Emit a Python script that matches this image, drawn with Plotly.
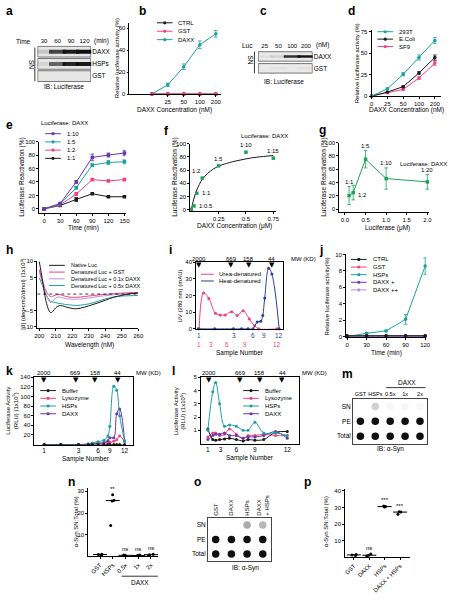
import plotly.graph_objects as go
import statistics

W, H = 455, 600
FONT = 'Liberation Sans, Arial, sans-serif'
BLACK = '#1a1a1a'; PINK = '#f0407f'; TEAL = '#1fa0a0'; PURPLE = '#6a35b0'
LPURPLE = '#b692e6'; BLUE = '#2a3da0'; GREEN = '#22a05c'

# ---------------- data ----------------
a_times = ['30', '60', '90', '120']
a_rows = ['DAXX', 'HSPs', 'GST']
a_daxx = [0.15, 0.75, 0.95, 1.0]
a_hsps = [0.08, 0.6, 0.9, 0.95]
a_gst = [0.0, 0.0, 0.0, 0.0]

b_conc = ['0', '25', '50', '100', '200']
b_ctrl = [0, 0, 0, 0, 0]
b_gst = [0, 0, 0, 0, 0]
b_daxx = [0, 8.5, 25, 45, 55]
b_daxx_err = [0, 1.5, 2.5, 3.5, 3]

c_conc = ['25', '50', '100', '200']
c_rows = ['DAXX', 'GST']
c_daxx = [0.04, 0.1, 0.85, 0.95]
c_gst = [0.0, 0.03, 0.0, 0.03]

d_conc = ['0', '25', '50', '100', '200']
d_293t = [0, 8.5, 25.5, 45, 65]
d_293t_err = [0, 1, 2, 3, 3.5]
d_ecoli = [0, 4.7, 11, 27, 45]
d_ecoli_err = [0, 0.5, 1, 1.5, 3]
d_sf9 = [0, 3.8, 7.8, 21, 38.5]
d_sf9_err = [0, 0.5, 1, 1.5, 2.5]

e_time = [0, 30, 60, 90, 120, 150]
e_1_10 = [0, 8, 40, 76.5, 80, 83]
e_1_10_err = [0, 1, 2, 5, 3, 4]
e_1_5 = [0, 7, 31.5, 65, 69, 70]
e_1_5_err = [0, 1, 2, 2, 3, 3]
e_1_2 = [0, 6, 22, 43.5, 41.5, 43.5]
e_1_2_err = [0, 1, 2, 1, 1, 2]
e_1_1 = [0, 5, 14, 22.5, 18, 18]
e_1_1_err = [0, 1, 3, 1, 1, 1]

f_conc = [0.0, 0.025, 0.05, 0.1, 0.25, 0.5, 0.75]
f_react = [1, 6, 25, 48, 66.5, 87, 78]
f_labels = ['', '1:0.5', '1:1', '1:2', '1:5', '1:10', '1:15']
f_fit_x = [0, 0.02, 0.05, 0.1, 0.15, 0.2, 0.25, 0.3, 0.4, 0.5, 0.6, 0.75]
f_fit_y = [0, 15, 30, 46, 55, 61.5, 66, 69, 73.5, 77, 79.5, 82]

g_luc = [0.1, 0.2, 0.5, 1.0, 2.0]
g_react = [20.5, 25, 75, 46, 41]
g_err = [13.5, 11, 13, 16, 11]
g_labels = ['1:1', '1:2', '1:5', '1:10', '1:20']

h_wl = [200, 202, 204, 206, 207, 208, 210, 212, 214, 216, 218, 220, 222, 225, 230, 235, 240, 245, 250, 255, 260]
h_native = [10, 4, -2, -5.2, -5.7, -5.4, -4.2, -3.6, -3.6, -3.9, -4.2, -4.4, -4.5, -4.3, -3.6, -2.8, -1.9, -1.0, -0.4, 0.1, 0.3]
h_gst = [7.5, 4, 1, -0.5, -0.8, -0.7, -0.3, -0.1, -0.4, -0.7, -0.9, -1.0, -1.0, -0.9, -0.6, -0.3, -0.1, 0.1, 0.3, 0.4, 0.5]
h_daxx01 = [7, 3, 0, -2.2, -2.6, -2.3, -1.2, -0.9, -1.1, -1.4, -1.5, -1.6, -1.6, -1.5, -1.2, -0.8, -0.5, -0.2, 0.0, 0.1, 0.2]
h_daxx05 = [5, 2.5, 0, -1.8, -2.3, -2.4, -2.6, -2.9, -3.0, -3.2, -3.3, -3.4, -3.5, -3.4, -3.0, -2.3, -1.5, -0.9, -0.6, -0.5, -0.4]

i_pink_pos = [3.1, 7.7, 13, 19.7, 24.7, 29.7, 36.3, 41.9, 48, 54.3, 59.7, 63.8, 82.3]
i_pink_val = [0, 21.6, 18.2, 9.3, 8.3, 8.3, 10.3, 7.9, 10.9, 5.9, 1.8, 0, 0]
i_blue_pos = [2.3, 19, 38, 46.3, 53, 58, 62.3, 66, 68, 70, 74, 77.3, 84.7]
i_blue_val = [0, 0, 0, 0, 0, 0, 4, 4.5, 8, 18.5, 36.5, 33, 0]
i_blue_ticks = [3, 39, 58, 69.7, 84.7]
i_pink_ticks = [3, 14.7, 31.3, 49.7, 83]
i_tick_text = ['1', '3', '6', '9', '12']
i_mw_pos = [3, 35.7, 53.7, 77.3]
mw_text = ['2000', '669', '158', '44']

j_time = [0, 30, 60, 90, 120]
j_ctrl = [0.1, 0.1, 0.1, 0.1, 0.1]
j_gst = [0.05, 0.1, 0.1, 0.1, 0.1]
j_hsps = [0, 0.4, 0.7, 2.1, 8.6]
j_hsps_err = [0, 0.1, 0.1, 0.6, 1.0]
j_daxx1 = [0.05, 0.05, 0.05, 0.05, 0.05]
j_daxx2 = [0.05, 0.05, 0.05, 0.05, 0.05]

k_pos = [10, 27, 45, 55, 59, 65, 71, 75, 77, 81, 84, 87, 92]
k_buffer = [0, 0, 0, 0, 0, 0, 0, 0, 0, 0, 0, 0, 0]
k_lyso = [0, 0, 0, 1, 2, 3, 3, 4, 5, 7, 10, 18, 6]
k_hsps = [0, 0, 0, 1, 3, 6, 9, 18, 38, 121, 113, 60, 8]
k_daxx = [0, 0, 0, 0, 1, 2, 4, 8, 14, 14, 64, 74, 8]
k_ticks = [10, 45, 65, 77, 92]
k_mw_pos = [10, 42, 62, 85]

l_pos = [7, 12, 15, 19, 24, 29, 36, 43, 48, 55, 64, 76, 88]
l_buffer = [1.1, 0.3, 0.25, 0.3, 0.35, 0.4, 0.3, 0.2, 0.3, 0.25, 0.3, 0.85, 0.9]
l_lyso = [0.5, 0.8, 0.8, 0.6, 0.7, 1.1, 0.7, 0.4, 0.6, 0.6, 0.7, 0.6, 0.6]
l_hsps = [1.0, 3.9, 4.6, 3.0, 1.3, 1.4, 1.3, 1.0, 1.0, 1.6, 0.8, 0.8, 0.6]
l_daxx = [0.3, 0.6, 0.7, 0.7, 0.8, 0.6, 0.6, 0.4, 0.5, 0.5, 0.6, 0.9, 0.4]
l_ticks = [7, 20, 36, 55, 88]
l_mw_pos = [8, 40, 60, 83]

m_lanes = ['GST', 'HSPs', '0.5x', '1x', '2x']
m_rows = ['SN', 'PE', 'Total']
m_sn = [0.0, 0.2, 0.03, 0.03, 0.03]
m_pe = [1.0, 1.0, 1.0, 1.0, 1.0]
m_total = [1.0, 1.0, 1.0, 1.0, 1.0]

n_groups = ['GST', 'HSPs', '0.5x', '1x', '2x']
n_vals = [[0.6, 0.9, 1.0], [14.2, 25.6, 25.9, 28.4], [0.2, 0.5, 0.6], [0.3, 0.4, 0.7], [0.5, 0.8, 1.0]]
n_sig = ['', '**', 'ns', 'ns', 'ns']

o_lanes = ['GST', 'DAXX', 'HSPs', 'DAXX<br>+ HSPs']
o_rows = ['SN', 'PE', 'Total']
o_sn = [0.0, 0.0, 0.35, 0.3]
o_pe = [1.0, 1.0, 1.0, 1.0]
o_total = [1.0, 1.0, 1.0, 1.0]

p_groups = ['GST', 'DAXX', 'HSPs', 'DAXX + HSPs']
p_vals = [[1.2, 1.5, 1.7], [0.9, 1.3, 2.0], [30.2, 30.5, 30.9], [25.9, 27.2, 27.4]]
p_sig = ['', 'ns', '***', '***']

# ---------------- helpers ----------------
fig = go.Figure()
layout = {}
shapes = []
anns = []


def fx(px):
    return px / W


def fy(py):
    return 1 - py / H


BASE = dict(showline=True, linecolor='black', linewidth=0.8, ticks='outside', ticklen=2,
            tickwidth=0.8, tickcolor='black', showgrid=False, zeroline=False,
            tickfont=dict(size=6, color='black', family=FONT), fixedrange=True)


def axes(n, x0, x1, y0, y1, xa=None, ya=None):
    xid = 'x' if n == 1 else f'x{n}'
    yid = 'y' if n == 1 else f'y{n}'
    xd = dict(BASE); xd.update(xa or {}); xd.update(domain=[fx(x0), fx(x1)], anchor=yid)
    yd = dict(BASE); yd.update(ya or {}); yd.update(domain=[fy(y1), fy(y0)], anchor=xid)
    layout['xaxis' if n == 1 else f'xaxis{n}'] = xd
    layout['yaxis' if n == 1 else f'yaxis{n}'] = yd
    return xid, yid


def text(px, py, s, size=6, xanchor='center', yanchor='middle', angle=0, color='black', bold=False):
    anns.append(dict(xref='paper', yref='paper', x=fx(px), y=fy(py), text=(f'<b>{s}</b>' if bold else s),
                     showarrow=False, xanchor=xanchor, yanchor=yanchor, textangle=angle,
                     font=dict(size=size, color=color, family=FONT), borderpad=0))


def line(x0, y0, x1, y1, color='black', width=0.8, dash='solid'):
    shapes.append(dict(type='line', xref='paper', yref='paper', x0=fx(x0), y0=fy(y0), x1=fx(x1), y1=fy(y1),
                       line=dict(color=color, width=width, dash=dash)))


def legend(x, y0, dy, items, line_len=16, gap=5, size=6):
    for i, (name, color, marker) in enumerate(items):
        y = y0 + i * dy
        line(x, y, x + line_len, y, color=color, width=1)
        if marker:
            cx = x + line_len / 2
            shapes.append(dict(type='circle', xref='paper', yref='paper', x0=fx(cx - 1.6), x1=fx(cx + 1.6),
                               y0=fy(y + 1.6), y1=fy(y - 1.6), fillcolor=color, line=dict(width=0)))
        text(x + line_len + gap, y, name, xanchor='left', size=size)


def series(x, y, color, xid, yid, err=None, size=3.5, shape='linear', mode='lines+markers', symbol='circle', width=1):
    t = go.Scatter(x=x, y=y, mode=mode, line=dict(color=color, width=width, shape=shape),
                   marker=dict(color=color, size=size, symbol=symbol), xaxis=xid, yaxis=yid,
                   showlegend=False, cliponaxis=False, hoverinfo='skip')
    if err is not None:
        t.error_y = dict(type='data', array=err, color=color, thickness=0.8, width=1.8, visible=True)
    fig.add_trace(t)


def gray(v):
    return f'rgba(15,15,15,{v})'


def blot_bands(lanes, rows, vals, xid, yid, size=13, width=4):
    xs, ys, cs = [], [], []
    for r, rv in zip(rows, vals):
        for l, v in zip(lanes, rv):
            xs.append(l); ys.append(r); cs.append(gray(v))
    fig.add_trace(go.Scatter(x=xs, y=ys, mode='markers', xaxis=xid, yaxis=yid, showlegend=False, hoverinfo='skip',
                             marker=dict(symbol='line-ew', size=size, color=cs, line=dict(color=cs, width=width))))


def blot_dots(lanes, rows, vals, xid, yid, size=8):
    xs, ys, cs = [], [], []
    for r, rv in zip(rows, vals):
        for l, v in zip(lanes, rv):
            xs.append(l); ys.append(r); cs.append(gray(v))
    fig.add_trace(go.Scatter(x=xs, y=ys, mode='markers', xaxis=xid, yaxis=yid, showlegend=False, hoverinfo='skip',
                             marker=dict(symbol='circle', size=size, color=cs, line=dict(width=0))))


def dotplot(groups, vals, sig, xid, yid):
    xs, ys = [], []
    for g, v in zip(groups, vals):
        xs += [g] * len(v); ys += v
    fig.add_trace(go.Box(x=xs, y=ys, boxpoints='all', jitter=0.7, pointpos=0, width=0.55,
                         fillcolor='rgba(0,0,0,0)', line=dict(color='rgba(0,0,0,0)', width=0),
                         marker=dict(color='black', size=3), xaxis=xid, yaxis=yid, showlegend=False,
                         hoverinfo='skip'))
    meds = [statistics.median(v) for v in vals]
    fig.add_trace(go.Scatter(x=groups, y=meds, mode='markers', xaxis=xid, yaxis=yid, showlegend=False,
                             marker=dict(symbol='line-ew', size=10, line=dict(color='black', width=1)),
                             hoverinfo='skip', cliponaxis=False))
    for g, v, s in zip(groups, vals, sig):
        if s:
            anns.append(dict(xref=xid, yref=yid, x=g, y=max(v), text=s, showarrow=False, yanchor='bottom',
                             yshift=1, font=dict(size=6, family=FONT)))


# ---------------- panel letters ----------------
for s, x, y in [('a', 2, 0), ('b', 138, 0), ('c', 261, 0), ('d', 351, 0), ('e', 2, 115), ('f', 163, 121),
                ('g', 321, 120), ('h', 2, 241), ('i', 168, 241), ('j', 321, 241), ('k', 2, 364),
                ('l', 171, 364), ('m', 345, 367), ('n', 65, 476), ('o', 194, 476), ('p', 306, 476)]:
    text(x, y, s, size=12, xanchor='left', yanchor='top', bold=True)

# ---------------- a: blot ----------------
xa_, ya_ = axes(13, 35, 90, 43, 80,
                xa=dict(type='category', categoryorder='array', categoryarray=a_times, range=[-0.5, 3.5],
                        side='top', showline=False, ticks='', tickangle=0),
                ya=dict(type='category', categoryorder='array', categoryarray=a_rows, range=[2.5, -0.5],
                        side='right', showline=False, ticks='', tickfont=dict(size=6.5, family=FONT, color='black')))
for i in range(len(a_rows)):
    shapes.append(dict(type='rect', xref=xa_, yref=ya_, x0=-0.47, x1=3.47, y0=i - 0.44, y1=i + 0.44,
                       fillcolor='#e6e6e6', line=dict(color='#555555', width=0.8), layer='below'))
blot_bands(a_times, a_rows, [a_daxx, a_hsps, a_gst], xa_, ya_, size=12, width=4)
text(30, 38.5, 'Time', size=6.5, xanchor='right')
text(92, 38.5, '(min)', size=6.5, xanchor='left')
text(29, 62, 'SN', size=6.5, angle=90)
line(32.5, 45, 32.5, 79)
text(62, 84, 'IB: Luciferase', size=6.5)

# ---------------- b ----------------
xb, yb = axes(1, 129, 222, 20, 92,
              xa=dict(type='category', categoryorder='array', categoryarray=b_conc, range=[-1.4, 4.3],
                      tickmode='array', tickvals=b_conc[1:], tickangle=0),
              ya=dict(range=[0, 65], tickvals=[0, 20, 40, 60]))
series(b_conc, b_daxx, TEAL, xb, yb, err=b_daxx_err)
series(b_conc, b_ctrl, BLACK, xb, yb)
series(b_conc, b_gst, PINK, xb, yb, symbol='square')
legend(157, 20, 8.5, [('CTRL', BLACK, True), ('GST', PINK, True), ('DAXX', TEAL, True)])
text(175, 108, 'DAXX Concentration (nM)', size=6.5)
text(117, 56, 'Relative luciferase activity (%)', size=6, angle=-90)

# ---------------- c: blot ----------------
xc_, yc_ = axes(14, 260, 316, 48, 72,
                xa=dict(type='category', categoryorder='array', categoryarray=c_conc, range=[-0.5, 3.5],
                        side='top', showline=False, ticks='', tickangle=0),
                ya=dict(type='category', categoryorder='array', categoryarray=c_rows, range=[1.5, -0.5],
                        side='right', showline=False, ticks='', tickfont=dict(size=6.5, family=FONT, color='black')))
for i in range(len(c_rows)):
    shapes.append(dict(type='rect', xref=xc_, yref=yc_, x0=-0.47, x1=3.47, y0=i - 0.4, y1=i + 0.4,
                       fillcolor='#e9e9e9', line=dict(color='#555555', width=0.8), layer='below'))
blot_bands(c_conc, c_rows, [c_daxx, c_gst], xc_, yc_, size=12, width=2.5)
text(256, 42.5, 'Luc', size=6.5, xanchor='right')
text(318, 42.5, '(nM)', size=6.5, xanchor='left')
text(253, 58, 'SN', size=6.5, angle=90)
line(256.5, 49, 256.5, 71)
text(287, 79, 'IB: Luciferase', size=6.5)

# ---------------- d ----------------
xd, yd = axes(2, 376, 447, 27, 94,
              xa=dict(type='category', categoryorder='array', categoryarray=d_conc, range=[0, 4.4], tickangle=0),
              ya=dict(range=[0, 77.5], tickvals=[0, 25, 50, 75]))
series(d_conc, d_sf9, PINK, xd, yd, err=d_sf9_err)
series(d_conc, d_ecoli, BLACK, xd, yd, err=d_ecoli_err)
series(d_conc, d_293t, TEAL, xd, yd, err=d_293t_err)
legend(382, 29, 7.5, [('293T', TEAL, True), ('E.Coli', BLACK, True), ('SF9', PINK, True)])
text(412, 108, 'DAXX Concentration (nM)', size=6.5)
text(362, 61, 'Relative luciferase activity (%)', size=6, angle=-90)

# ---------------- e ----------------
xe, ye = axes(3, 37, 125, 140, 212,
              xa=dict(range=[-9, 152], tickvals=[0, 30, 60, 90, 120, 150]),
              ya=dict(range=[-6, 100], tickvals=[0, 20, 40, 60, 80, 100]))
series(e_time, e_1_1, BLACK, xe, ye, err=e_1_1_err, symbol='square')
series(e_time, e_1_2, PINK, xe, ye, err=e_1_2_err, symbol='square')
series(e_time, e_1_5, TEAL, xe, ye, err=e_1_5_err, symbol='square')
series(e_time, e_1_10, PURPLE, xe, ye, err=e_1_10_err, symbol='square')
text(38, 121, 'Luciferase: DAXX', size=6, xanchor='left')
legend(43, 132, 8.3, [('1:10', PURPLE, True), ('1:5', TEAL, True), ('1:2', PINK, True), ('1:1', BLACK, True)])
text(82, 227, 'Time (min)', size=6.5)
text(20, 176, 'Luciferase Reactivation (%)', size=6.5, angle=-90)

# ---------------- f ----------------
xf, yf = axes(4, 191, 278, 142, 210,
              xa=dict(range=[-0.01, 0.77], tickvals=[0.25, 0.5, 0.75]),
              ya=dict(range=[-1.5, 100], tickvals=[0, 20, 40, 60, 80, 100]))
series(f_fit_x, f_fit_y, BLACK, xf, yf, mode='lines', shape='spline')
series(f_conc, f_react, GREEN, xf, yf, mode='markers', symbol='square')
f_pos = ['', 'right', 'right', 'topleft', 'top', 'top', 'top']
for xv, yv, lab, pos in zip(f_conc, f_react, f_labels, f_pos):
    if not lab:
        continue
    if pos == 'right':
        a = dict(xanchor='left', yanchor='middle', xshift=3)
    elif pos == 'topleft':
        a = dict(xanchor='right', yanchor='bottom', xshift=1, yshift=2)
    else:
        a = dict(xanchor='center', yanchor='bottom', yshift=2)
    anns.append(dict(xref=xf, yref=yf, x=xv, y=yv, text=lab, showarrow=False,
                     font=dict(size=6, family=FONT), **a))
text(267, 134, 'Luciferase: DAXX', size=6)
text(236, 225, 'DAXX Concentration (μM)', size=6.5)
text(176, 176, 'Luciferase Reactivation (%)', size=6.5, angle=-90)

# ---------------- g ----------------
xg, yg = axes(5, 343, 435, 141, 211,
              xa=dict(range=[-0.14, 2.05], tickvals=[0, 0.5, 1, 1.5, 2],
                      ticktext=['0.0', '0.5', '1.0', '1.5', '2.0']),
              ya=dict(range=[-4, 100], tickvals=[0, 20, 40, 60, 80, 100]))
series(g_luc, g_react, GREEN, xg, yg, err=g_err, symbol='square')
for i, (xv, yv, ev, lab) in enumerate(zip(g_luc, g_react, g_err, g_labels)):
    if lab == '1:2':
        anns.append(dict(xref=xg, yref=yg, x=xv, y=yv, text=lab, showarrow=False, xanchor='left',
                         yanchor='middle', xshift=3, yshift=-2, font=dict(size=6, family=FONT)))
    else:
        anns.append(dict(xref=xg, yref=yg, x=xv, y=yv + ev, text=lab, showarrow=False, xanchor='center',
                         yanchor='bottom', yshift=0, font=dict(size=6, family=FONT)))
text(454, 163, 'Luciferase: DAXX', size=6, xanchor='right')
text(392, 227, 'Luciferase (μM)', size=6.5)
text(328, 176, 'Luciferase Reactivation (%)', size=6.5, angle=-90)

# ---------------- h ----------------
xh, yh = axes(6, 35, 138, 261, 328,
              xa=dict(range=[198.8, 260], tickvals=[200, 210, 220, 230, 240, 250, 260]),
              ya=dict(range=[-10.3, 10], tickvals=[-10, -5, 5, 10]))
shapes.append(dict(type='line', xref=xh, yref=yh, x0=198.8, x1=260, y0=0, y1=0,
                   line=dict(color='black', width=0.8, dash='dot')))
series(h_wl, h_daxx05, TEAL, xh, yh, mode='lines', shape='spline')
series(h_wl, h_daxx01, LPURPLE, xh, yh, mode='lines', shape='spline')
series(h_wl, h_gst, PINK, xh, yh, mode='lines', shape='spline')
series(h_wl, h_native, BLACK, xh, yh, mode='lines', shape='spline')
legend(47, 265, 6.8, [('Native Luc', BLACK, False), ('Denatured Luc + GST', PINK, False),
                      ('Denatured Luc + 0.1x DAXX', LPURPLE, False), ('Denatured Luc + 0.5x DAXX', TEAL, False)],
       line_len=16, gap=5, size=5.5)
text(88, 345, 'Wavelength (nM)', size=6.5)
text(20, 294, '[θ] (deg•cm2/dmol) (1x10<sup>3</sup>)', size=6, angle=-90)

# ---------------- i ----------------
xi, yi = axes(7, 197, 286, 262, 329,
              xa=dict(range=[0, 89], showticklabels=False, ticks='', mirror=True),
              ya=dict(range=[0, 40], tickvals=[0, 10, 20, 30, 40], mirror=True))
series(i_pink_pos, i_pink_val, PINK, xi, yi, shape='spline', size=3)
series(i_blue_pos, i_blue_val, BLUE, xi, yi, shape='spline', size=3)
for xv, t in zip(i_blue_ticks, i_tick_text):
    anns.append(dict(xref=xi, yref='paper', x=xv, y=fy(336), text=t, showarrow=False,
                     font=dict(size=6.5, color=BLUE, family=FONT)))
for xv, t in zip(i_pink_ticks, i_tick_text):
    anns.append(dict(xref=xi, yref='paper', x=xv, y=fy(345), text=t, showarrow=False,
                     font=dict(size=6.5, color=PINK, family=FONT)))
for xv, t in zip(i_mw_pos, mw_text):
    anns.append(dict(xref=xi, yref='paper', x=xv, y=fy(258.5), text=t, showarrow=False,
                     font=dict(size=6, family=FONT)))
    anns.append(dict(xref=xi, yref='paper', x=xv, y=fy(265), text='▼', showarrow=False,
                     font=dict(size=7, family='DejaVu Sans')))
text(293, 258.5, 'MW (KD)', size=6, xanchor='left')
legend(202, 274, 6.8, [('Urea-denatured', PINK, False), ('Heat-denatured', BLUE, False)], line_len=13, gap=4)
text(242, 354, 'Sample Number', size=6.5)
text(181, 296, 'UV (280 nm) (mAU)', size=6, angle=-90)

# ---------------- j ----------------
xj, yj = axes(8, 350, 432, 254, 337,
              xa=dict(range=[-1.5, 122], tickvals=[0, 30, 60, 90, 120]),
              ya=dict(range=[0, 10], tickvals=[0, 2, 4, 6, 8, 10]))
series(j_time, j_hsps, TEAL, xj, yj, err=j_hsps_err)
series(j_time, j_gst, PINK, xj, yj)
series(j_time, j_daxx2, LPURPLE, xj, yj)
series(j_time, j_daxx1, PURPLE, xj, yj)
series(j_time, j_ctrl, BLACK, xj, yj)
legend(355, 259, 7.7, [('CTRL', BLACK, True), ('GST', PINK, True), ('HSPs', TEAL, True),
                       ('DAXX +', PURPLE, True), ('DAXX ++', LPURPLE, True)])
text(391, 354, 'Time (min)', size=6.5)
text(331, 296, 'Relative luciferase activity(%)', size=6, angle=-90)

# ---------------- k ----------------
xk, yk = axes(9, 32, 133, 378, 446,
              xa=dict(range=[0, 101], tickvals=k_ticks, ticktext=i_tick_text, ticks='', mirror=True,
                      tickfont=dict(size=6.5, family=FONT, color='black')),
              ya=dict(range=[0, 140], tickvals=[20, 40, 60, 80, 100, 120, 140], mirror=True))
series(k_pos, k_lyso, PINK, xk, yk, shape='spline', size=3)
series(k_pos, k_daxx, PURPLE, xk, yk, shape='spline', size=3)
series(k_pos, k_hsps, TEAL, xk, yk, shape='spline', size=3)
series(k_pos, k_buffer, BLACK, xk, yk, shape='spline', size=3)
for xv, t in zip(k_mw_pos, mw_text):
    anns.append(dict(xref=xk, yref='paper', x=xv, y=fy(374), text=t, showarrow=False,
                     font=dict(size=6, family=FONT)))
    anns.append(dict(xref=xk, yref='paper', x=xv, y=fy(381), text='▼', showarrow=False,
                     font=dict(size=7, family='DejaVu Sans')))
text(135, 374, 'MW (KD)', size=6, xanchor='left')
legend(38, 391.5, 7.8, [('Buffer', BLACK, True), ('Lysozyme', PINK, True), ('HSPs', TEAL, True),
                        ('DAXX', PURPLE, True)])
text(85, 461, 'Sample Number', size=6.5)
text(9, 412, 'Luciferase Activity<br>(RLU) (1x10<sup>5</sup>)', size=6, angle=-90)

# ---------------- l ----------------
xl, yl = axes(10, 202, 302, 378, 445,
              xa=dict(range=[0, 100], tickvals=l_ticks, ticktext=i_tick_text, ticks='', mirror=True,
                      tickfont=dict(size=6.5, family=FONT, color='black')),
              ya=dict(range=[0, 5], tickvals=[1, 2, 3, 4, 5], mirror=True))
series(l_pos, l_lyso, PINK, xl, yl, shape='spline', size=3)
series(l_pos, l_buffer, BLACK, xl, yl, shape='spline', size=3)
series(l_pos, l_daxx, PURPLE, xl, yl, shape='spline', size=3)
series(l_pos, l_hsps, TEAL, xl, yl, shape='spline', size=3)
for xv, t in zip(l_mw_pos, mw_text):
    anns.append(dict(xref=xl, yref='paper', x=xv, y=fy(374), text=t, showarrow=False,
                     font=dict(size=6, family=FONT)))
    anns.append(dict(xref=xl, yref='paper', x=xv, y=fy(381), text='▼', showarrow=False,
                     font=dict(size=7, family='DejaVu Sans')))
text(304, 374, 'MW (KD)', size=6, xanchor='left')
legend(245, 391.5, 7.8, [('Buffer', BLACK, True), ('Lysozyme', PINK, True), ('HSPs', TEAL, True),
                         ('DAXX', PURPLE, True)])
text(252, 460, 'Sample Number', size=6.5)
text(180, 412, 'Luciferase Activity<br>(RLU) (1x10<sup>5</sup>)', size=6, angle=-90)

# ---------------- m ----------------
xm, ym = axes(15, 357, 433, 400, 445,
              xa=dict(type='category', categoryorder='array', categoryarray=m_lanes, range=[-0.5, 4.5],
                      side='top', ticks='', mirror=True, linecolor='#444444', tickangle=0,
                      tickfont=dict(size=5.6, family=FONT, color='black')),
              ya=dict(type='category', categoryorder='array', categoryarray=m_rows, range=[2.5, -0.5],
                      ticks='', mirror=True, linecolor='#444444',
                      tickfont=dict(size=6.5, family=FONT, color='black')))
blot_dots(m_lanes, m_rows, [m_sn, m_pe, m_total], xm, ym, size=7.5)
text(412, 383, 'DAXX', size=6.5)
line(391, 388.5, 431, 388.5)
text(395, 451, 'IB: α-Syn', size=6.5)

# ---------------- n ----------------
xn, yn = axes(11, 87, 158, 490, 559,
              xa=dict(type='category', categoryorder='array', categoryarray=n_groups, range=[-0.92, 4.54],
                      tickangle=-45),
              ya=dict(range=[0, 31.5], tickvals=[10, 20, 30]))
dotplot(n_groups, n_vals, n_sig, xn, yn)
line(121, 579, 158, 579)
text(139.5, 585, 'DAXX', size=6.5)
text(74, 524, 'α-Syn SN:Total (%)', size=6, angle=-90)

# ---------------- o ----------------
xo, yo = axes(16, 209, 273, 520, 564,
              xa=dict(type='category', categoryorder='array', categoryarray=o_lanes, range=[-0.5, 3.5],
                      side='top', ticks='', mirror=True, linecolor='#444444', tickangle=-90,
                      tickfont=dict(size=6, family=FONT, color='black')),
              ya=dict(type='category', categoryorder='array', categoryarray=o_rows, range=[2.5, -0.5],
                      ticks='', mirror=True, linecolor='#444444',
                      tickfont=dict(size=6.5, family=FONT, color='black')))
blot_dots(o_lanes, o_rows, [o_sn, o_pe, o_total], xo, yo, size=7.5)
text(247, 571, 'IB: α-Syn', size=6.5)

# ---------------- p ----------------
xp, yp = axes(12, 349, 415, 491, 560,
              xa=dict(type='category', categoryorder='array', categoryarray=p_groups, range=[-0.57, 3.63],
                      tickangle=-45, tickfont=dict(size=5.8, family=FONT, color='black')),
              ya=dict(range=[0, 41], tickvals=[10, 20, 30, 40]))
dotplot(p_groups, p_vals, p_sig, xp, yp)
text(329, 524, 'α-Syn SN:Total (%)', size=6, angle=-90)

fig.update_layout(width=W, height=H, margin=dict(l=0, r=0, t=0, b=0), paper_bgcolor='white',
                  plot_bgcolor='rgba(0,0,0,0)', showlegend=False, font=dict(family=FONT, size=6, color='black'),
                  shapes=shapes, annotations=anns, **layout)
fig.write_html('out.html', config={'displayModeBar': False},
               post_script="document.body.style.margin='0';document.body.style.overflow='hidden';")
